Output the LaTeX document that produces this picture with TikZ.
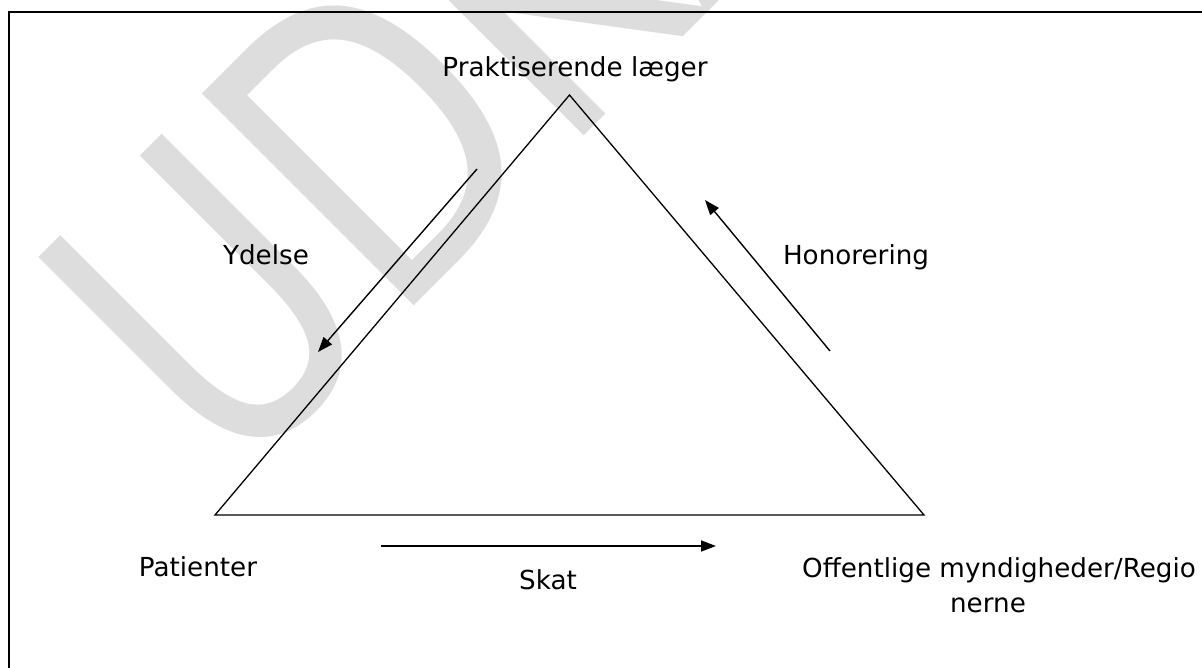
\documentclass[tikz,border=0pt]{standalone}
\usepackage{fontspec}
\setmainfont{DejaVu Sans}
\usetikzlibrary{arrows.meta}
\definecolor{wmgray}{RGB}{221,221,221}
\tikzset{
  lbl/.style={font=\fontsize{26.2}{31}\selectfont, inner sep=0pt, anchor=base},
  side/.style={line width=1.3pt, line join=miter},
  flow/.style={line width=1.4pt, -{Triangle[length=15pt,width=11pt]}},
  frame/.style={line width=2pt},
  wmark/.style={text=wmgray, font=\fontsize{411}{411}\selectfont, inner sep=0pt,
    rotate=45, anchor=base west},
}
\begin{document}
\begin{tikzpicture}[x=1pt,y=-1pt]
\useasboundingbox (0,0) rectangle (1202,668);
\begin{scope}
  \clip (0,0) rectangle (1202,668);
  % draft watermark behind everything
  \node[wmark] (wm) at (231,489) {\scalebox{0.76}[1]{UDKAST}};
  % page frame (runs off to the right and bottom)
  \draw[frame] (9,12) rectangle (1230,700);

  % corners of the triangle
  \coordinate (top) at (569.5,95);
  \coordinate (bl) at (215,515);
  \coordinate (br) at (924,515);
  \draw[side] (top) -- (bl) -- (br) -- cycle;

  % flow arrows
  \coordinate (ydA) at (477,169);
  \coordinate (ydB) at (318,352);
  \coordinate (hoA) at (830,351);
  \coordinate (hoB) at (705,200);
  \coordinate (skA) at (381,546);
  \coordinate (skB) at (716,546);
  \draw[flow] (ydA) -- (ydB);
  \draw[flow] (hoA) -- (hoB);
  \draw[flow] (skA) -- (skB);

  % labels
  \node[lbl] (prak) at (575,77) {Praktiserende læger};
  \node[lbl] (ydelse) at (266,265) {Ydelse};
  \node[lbl] (honor) at (856,265) {Honorering};
  \node[lbl] (pat) at (198,576) {Patienter};
  \node[lbl] (skat) at (548,589) {Skat};
  \node[lbl, anchor=base west] (off) at (802,577) {Offentlige myndigheder/Regio};
  \node[lbl] (nerne) at (988,612) {nerne};
\end{scope}
\end{tikzpicture}
\end{document}
